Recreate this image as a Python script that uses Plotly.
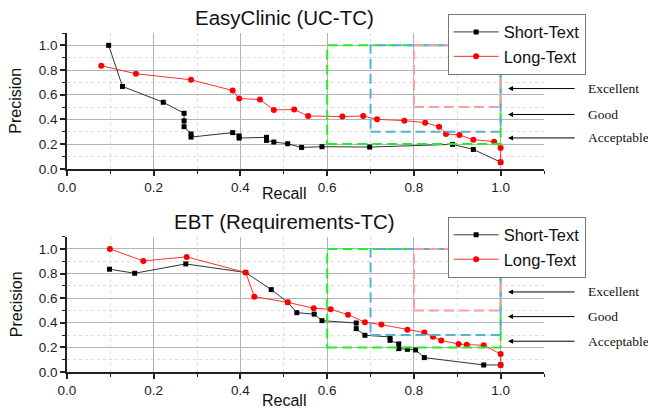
import plotly.graph_objects as go

# EasyClinic (UC-TC) precision/recall curves
ec_short_recall = [0.096, 0.128, 0.222, 0.270, 0.270, 0.270, 0.286, 0.286, 0.382, 0.397, 0.397,
                   0.460, 0.460, 0.477, 0.509, 0.541, 0.588, 0.698, 0.889, 0.937, 1.0]
ec_short_prec = [1.0, 0.667, 0.539, 0.450, 0.388, 0.341, 0.282, 0.257, 0.293, 0.266, 0.249,
                 0.255, 0.230, 0.217, 0.203, 0.173, 0.179, 0.176, 0.198, 0.157, 0.054]
ec_long_recall = [0.079, 0.159, 0.286, 0.382, 0.397, 0.445, 0.477, 0.524, 0.556, 0.635, 0.683,
                  0.715, 0.778, 0.826, 0.858, 0.874, 0.905, 0.937, 0.985, 1.0, 1.0]
ec_long_prec = [0.835, 0.770, 0.721, 0.634, 0.569, 0.561, 0.477, 0.480, 0.428, 0.423, 0.428,
                0.401, 0.390, 0.374, 0.341, 0.282, 0.274, 0.236, 0.220, 0.168, 0.054]

# EBT (Requirements-TC) precision/recall curves
ebt_short_recall = [0.098, 0.156, 0.274, 0.412, 0.471, 0.509, 0.530, 0.570, 0.588, 0.667, 0.667,
                    0.687, 0.745, 0.745, 0.765, 0.765, 0.785, 0.804, 0.824, 0.961, 1.0]
ebt_short_prec = [0.835, 0.802, 0.878, 0.808, 0.669, 0.566, 0.482, 0.470, 0.417, 0.398, 0.352,
                  0.298, 0.285, 0.257, 0.228, 0.190, 0.184, 0.179, 0.117, 0.057, 0.057]
ebt_long_recall = [0.099, 0.176, 0.276, 0.412, 0.432, 0.509, 0.569, 0.608, 0.648, 0.687, 0.725,
                   0.785, 0.824, 0.844, 0.863, 0.903, 0.922, 0.961, 1.0, 1.0]
ebt_long_prec = [1.0, 0.902, 0.935, 0.808, 0.612, 0.566, 0.518, 0.509, 0.466, 0.404, 0.385,
                 0.344, 0.320, 0.287, 0.255, 0.228, 0.222, 0.217, 0.146, 0.057]

# Quality zones: lower-left corner of each region (upper-right is recall=1, precision=1)
zone_names = ["Acceptable", "Good", "Excellent"]
zone_recall_min = [0.6, 0.7, 0.8]
zone_prec_min = [0.2, 0.3, 0.5]
zone_colors = ["#22ee22", "#5ab0d4", "#ff9c9c"]
zone_label_y_top = [0.25, 0.44, 0.65]
zone_label_y_bottom = [0.25, 0.45, 0.65]

titles = ["EasyClinic (UC-TC)", "EBT (Requirements-TC)"]
tick_vals = [0.0, 0.2, 0.4, 0.6, 0.8, 1.0]

SANS = "Liberation Sans, Arial, sans-serif"
SERIF = "Liberation Serif, Times New Roman, serif"

fig = go.Figure()

panels = [
    ("x", "y", "legend", ec_short_recall, ec_short_prec, ec_long_recall, ec_long_prec),
    ("x2", "y2", "legend2", ebt_short_recall, ebt_short_prec, ebt_long_recall, ebt_long_prec),
]
for xa, ya, lg, sr, sp, lr, lp in panels:
    fig.add_trace(go.Scatter(
        x=sr, y=sp, xaxis=xa, yaxis=ya, legend=lg, name="Short-Text",
        mode="lines+markers", line=dict(color="#333333", width=1),
        marker=dict(symbol="square", size=5, color="#000000"), cliponaxis=False))
    fig.add_trace(go.Scatter(
        x=lr, y=lp, xaxis=xa, yaxis=ya, legend=lg, name="Long-Text",
        mode="lines+markers", line=dict(color="#ff3030", width=1),
        marker=dict(symbol="circle", size=6, color="#ff0000"), cliponaxis=False))

# dashed zone rectangles
for xa, ya in [("x", "y"), ("x2", "y2")]:
    for x0, y0, col in zip(zone_recall_min, zone_prec_min, zone_colors):
        fig.add_shape(type="rect", xref=xa, yref=ya, x0=x0, x1=1.0, y0=y0, y1=1.0,
                      line=dict(color=col, width=2, dash="10px,5px"), layer="above")

axis_common = dict(
    range=[0, 1.1], showline=True, linecolor="#222222", linewidth=1.5, mirror=False,
    ticks="outside", ticklen=5, tickwidth=1.5, tickcolor="#222222",
    tickvals=tick_vals, tickformat=".1f",
    tickfont=dict(family=SANS, size=13.5, color="#222222"),
    showgrid=True, gridcolor="#b4b4b4", gridwidth=1, zeroline=False,
    minor=dict(dtick=0.1, ticks="outside", ticklen=3, tickwidth=1, tickcolor="#222222",
               showgrid=True, gridcolor="#dddddd", griddash="dot", gridwidth=1),
)

top_dom = [0.5994, 1.0]
bot_dom = [0.0, 0.3995]

legend_common = dict(xanchor="left", yanchor="top",
                     bgcolor="white", bordercolor="#777777", borderwidth=1,
                     font=dict(family=SANS, size=16.5, color="#111111"),
                     tracegroupgap=0, itemwidth=45)

fig.update_layout(
    width=648, height=409,
    margin=dict(l=67, r=104, t=33, b=37),
    paper_bgcolor="white", plot_bgcolor="white",
    showlegend=True,
    xaxis=dict(axis_common, anchor="y", domain=[0, 1]),
    yaxis=dict(axis_common, anchor="x", domain=top_dom),
    xaxis2=dict(axis_common, anchor="y2", domain=[0, 1]),
    yaxis2=dict(axis_common, anchor="x2", domain=bot_dom),
    legend=dict(legend_common, x=0.798, y=1.057),
    legend2=dict(legend_common, x=0.798, y=0.4585),
)

ann = []
# panel titles
for t, yp in zip(titles, [1.0451, 0.4429]):
    ann.append(dict(text=t, xref="paper", yref="paper", x=0.4567, y=yp,
                    xanchor="center", yanchor="middle", showarrow=False,
                    font=dict(family=SANS, size=20.5, color="#111111")))
# axis titles
for yp in [0.5255, -0.0827]:
    ann.append(dict(text="Recall", xref="paper", yref="paper", x=0.4546, y=yp,
                    xanchor="center", yanchor="middle", showarrow=False,
                    font=dict(family=SANS, size=16, color="#111111")))
for yp in [0.8, 0.2]:
    ann.append(dict(text="Precision", xref="paper", yref="paper", x=-0.107, y=yp,
                    xanchor="center", yanchor="middle", showarrow=False, textangle=-90,
                    font=dict(family=SANS, size=16, color="#111111")))
# zone labels with arrows
for ya, ys in [("y", zone_label_y_top), ("y2", zone_label_y_bottom)]:
    for name, yv in zip(zone_names, ys):
        ann.append(dict(text="", xref="paper", yref=ya, x=0.9246, y=yv,
                        ax=68, ay=0, showarrow=True, arrowhead=2, arrowsize=1,
                        arrowwidth=1, arrowcolor="#000000", standoff=0))
        ann.append(dict(text=name, xref="paper", yref=ya, x=1.0874, y=yv,
                        xanchor="left", yanchor="middle", showarrow=False,
                        font=dict(family=SERIF, size=13.5, color="#111111")))
fig.update_layout(annotations=ann)

fig.write_html("out.html")
